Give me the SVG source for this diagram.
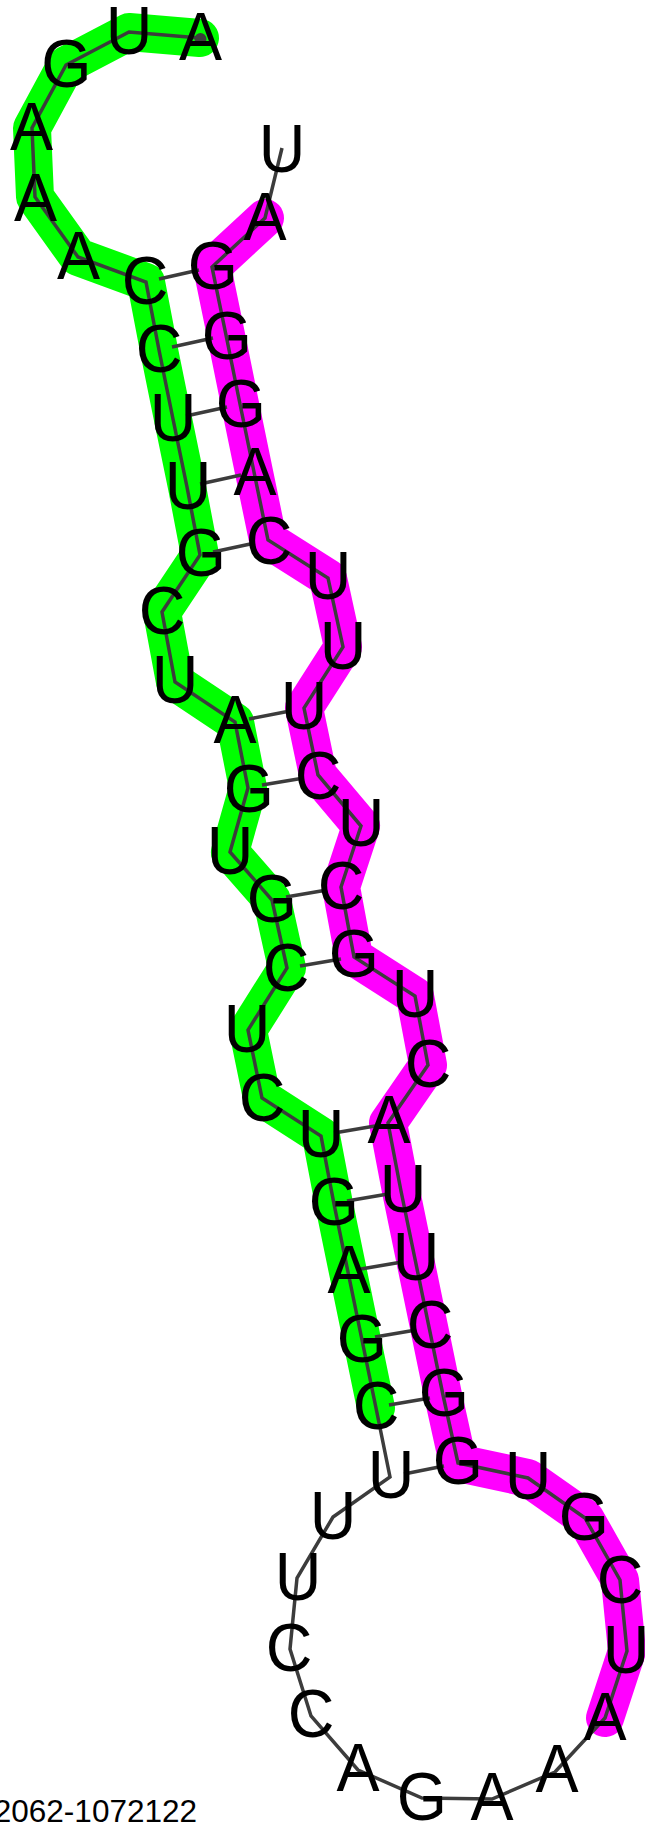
<svg xmlns="http://www.w3.org/2000/svg" width="645" height="1823" viewBox="0 0 645 1823">
<style>
.hl{fill:none;stroke-width:38;stroke-linecap:round;stroke-linejoin:round}
.bb{fill:none;stroke:#3c3c3c;stroke-width:3.5;stroke-linejoin:miter}
.bp{stroke:#3c3c3c;stroke-width:3.5}
text{font-family:"Liberation Sans",Arial,sans-serif;fill:#000}
.n{font-size:68px;text-anchor:middle;transform-box:fill-box;transform-origin:center;transform:scaleX(.95)}
.l{font-size:31.5px;text-anchor:end}
</style>
<rect width="645" height="1823" fill="#fff"/>
<g id="highlights">
<path class="hl" stroke="#00ff00" d="M200 38L129 32L66 65L32 128L35 197L78 257L146 282L159 350L173 419L187 487L200 555L162 612L175 682L235 722L248 788L230 852L272 900L287 968L248 1030L262 1098L321 1136L334 1204L348 1272L362 1340L376 1408"/>
<path class="hl" stroke="#ff00ff" d="M265 218L212 267L226 335L240 404L254 472L268 540L328 578L343 647L304 708L318 775L361 826L341 887L354 957L415 996L428 1065L388 1123L401 1191L415 1259L429 1327L443 1395L458 1463L528 1478L585 1518L620 1580L627 1651L605 1718"/>
</g>
<g id="connectors">
<path class="bb" d="M200 38L129 32L66 65L32 128L35 197L78 257L146 282L159 350L173 419L187 487L200 555L162 612L175 682L235 722L248 788L230 852L272 900L287 968L248 1030L262 1098L321 1136L334 1204L348 1272L362 1340L376 1408L390 1477L333 1517L297 1578L290 1649L311 1716L358 1770L422 1798L492 1799L555 1772L605 1718L627 1651L620 1580L585 1518L528 1478L458 1463L443 1395L429 1327L415 1259L401 1191L388 1123L428 1065L415 996L354 957L341 887L361 826L318 775L304 708L343 647L328 578L268 540L254 472L240 404L226 335L212 267L265 218L282 148"/>
<circle cx="200.5" cy="39" r="6" fill="#3c3c3c"/>
<line class="bp" x1="159" y1="279" x2="199" y2="270"/>
<line class="bp" x1="172" y1="347" x2="213" y2="338"/>
<line class="bp" x1="186" y1="416" x2="227" y2="407"/>
<line class="bp" x1="200" y1="484" x2="241" y2="475"/>
<line class="bp" x1="213" y1="552" x2="255" y2="543"/>
<line class="bp" x1="249" y1="719" x2="290" y2="711"/>
<line class="bp" x1="262" y1="785" x2="304" y2="778"/>
<line class="bp" x1="286" y1="897" x2="327" y2="890"/>
<line class="bp" x1="300" y1="966" x2="341" y2="959"/>
<line class="bp" x1="334" y1="1133" x2="375" y2="1126"/>
<line class="bp" x1="347" y1="1201" x2="388" y2="1194"/>
<line class="bp" x1="361" y1="1269" x2="402" y2="1262"/>
<line class="bp" x1="375" y1="1337" x2="416" y2="1330"/>
<line class="bp" x1="389" y1="1405" x2="430" y2="1398"/>
<line class="bp" x1="404" y1="1474" x2="444" y2="1466"/>
</g>
<g id="n1"><text class="n" x="200.5" y="60">A</text></g>
<g id="n2"><text class="n" x="129" y="54">U</text></g>
<g id="n3"><text class="n" x="66.5" y="87">G</text></g>
<g id="n4"><text class="n" x="31.5" y="150">A</text></g>
<g id="n5"><text class="n" x="35.5" y="221">A</text></g>
<g id="n6"><text class="n" x="78.5" y="279">A</text></g>
<g id="n7"><text class="n" x="145" y="304">C</text></g>
<g id="n8"><text class="n" x="159" y="372">C</text></g>
<g id="n9"><text class="n" x="173" y="441">U</text></g>
<g id="n10"><text class="n" x="188" y="509">U</text></g>
<g id="n11"><text class="n" x="201" y="576">G</text></g>
<g id="n12"><text class="n" x="162" y="634">C</text></g>
<g id="n13"><text class="n" x="175" y="703">U</text></g>
<g id="n14"><text class="n" x="235" y="743">A</text></g>
<g id="n15"><text class="n" x="249" y="812">G</text></g>
<g id="n16"><text class="n" x="230" y="874">U</text></g>
<g id="n17"><text class="n" x="272" y="922">G</text></g>
<g id="n18"><text class="n" x="286" y="991">C</text></g>
<g id="n19"><text class="n" x="247" y="1052">U</text></g>
<g id="n20"><text class="n" x="262" y="1121">C</text></g>
<g id="n21"><text class="n" x="321" y="1157">U</text></g>
<g id="n22"><text class="n" x="334" y="1225">G</text></g>
<g id="n23"><text class="n" x="349" y="1293">A</text></g>
<g id="n24"><text class="n" x="362" y="1362">G</text></g>
<g id="n25"><text class="n" x="376" y="1429">C</text></g>
<g id="n26"><text class="n" x="391" y="1498">U</text></g>
<g id="n27"><text class="n" x="333" y="1539">U</text></g>
<g id="n28"><text class="n" x="298" y="1600">U</text></g>
<g id="n29"><text class="n" x="289" y="1671">C</text></g>
<g id="n30"><text class="n" x="311" y="1737">C</text></g>
<g id="n31"><text class="n" x="358" y="1791">A</text></g>
<g id="n32"><text class="n" x="422" y="1820">G</text></g>
<g id="n33"><text class="n" x="492" y="1820">A</text></g>
<g id="n34"><text class="n" x="557" y="1792">A</text></g>
<g id="n35"><text class="n" x="605" y="1740">A</text></g>
<g id="n36"><text class="n" x="626" y="1673">U</text></g>
<g id="n37"><text class="n" x="620" y="1603">C</text></g>
<g id="n38"><text class="n" x="584" y="1540">G</text></g>
<g id="n39"><text class="n" x="528" y="1499">U</text></g>
<g id="n40"><text class="n" x="458" y="1484">G</text></g>
<g id="n41"><text class="n" x="444" y="1416">G</text></g>
<g id="n42"><text class="n" x="430" y="1348">C</text></g>
<g id="n43"><text class="n" x="416" y="1280">U</text></g>
<g id="n44"><text class="n" x="403" y="1212">U</text></g>
<g id="n45"><text class="n" x="389" y="1143">A</text></g>
<g id="n46"><text class="n" x="428" y="1087">C</text></g>
<g id="n47"><text class="n" x="415" y="1017">U</text></g>
<g id="n48"><text class="n" x="354" y="977">G</text></g>
<g id="n49"><text class="n" x="341" y="909">C</text></g>
<g id="n50"><text class="n" x="361" y="846">U</text></g>
<g id="n51"><text class="n" x="318" y="799">C</text></g>
<g id="n52"><text class="n" x="304" y="729">U</text></g>
<g id="n53"><text class="n" x="343" y="669">U</text></g>
<g id="n54"><text class="n" x="328" y="599">U</text></g>
<g id="n55"><text class="n" x="269" y="564">C</text></g>
<g id="n56"><text class="n" x="255" y="495">A</text></g>
<g id="n57"><text class="n" x="241" y="427">G</text></g>
<g id="n58"><text class="n" x="227" y="359">G</text></g>
<g id="n59"><text class="n" x="213" y="289">G</text></g>
<g id="n60"><text class="n" x="265" y="240">A</text></g>
<g id="n61"><text class="n" x="282" y="172">U</text></g>
<g id="label"><text class="l" x="197" y="1822">2062-1072122</text></g>
</svg>
